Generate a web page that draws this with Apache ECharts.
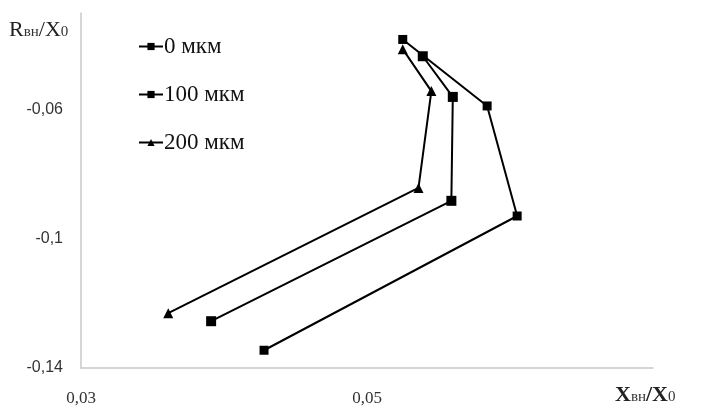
<!DOCTYPE html>
<html>
<head>
<meta charset="utf-8">
<script src="https://cdn.jsdelivr.net/npm/echarts@6/dist/echarts.min.js"></script>
<style>html,body{margin:0;padding:0;background:#fff}#c{width:706px;height:413px}</style>
</head>
<body>
<div id="c"></div>
<script>
const seriesNames = ['0 мкм', '100 мкм', '200 мкм'];
const x0 = [0.0525, 0.0584, 0.0605, 0.0428];
const y0 = [-0.0382, -0.0588, -0.0929, -0.1345];
const x100 = [0.0539, 0.0560, 0.0559, 0.0391];
const y100 = [-0.0434, -0.0560, -0.0882, -0.1255];
const x200 = [0.0525, 0.0545, 0.0536, 0.0361];
const y200 = [-0.0412, -0.0542, -0.0842, -0.1230];
const xTicks = [0.03, 0.05];
const yTicks = [-0.14, -0.1, -0.06];

const pairs = (xs, ys) => xs.map((v, i) => [v, ys[i]]);
const fmt = v => String(+v.toFixed(2)).replace('.', ',');

const chart = echarts.init(document.getElementById('c'));
const mk = (name, xs, ys, sym, size) => ({
  name, type: 'line', data: pairs(xs, ys),
  symbol: sym, symbolSize: size,
  lineStyle: { color: '#000', width: 2 },
  itemStyle: { color: '#000' },
  animation: false
});
chart.setOption({
  animation: false,
  grid: { left: 81, right: 53, top: 13, bottom: 45 },
  legend: {
    orient: 'vertical', left: 133, top: 30, itemGap: 25,
    itemWidth: 24, itemHeight: 9,
    textStyle: { fontFamily: 'Liberation Serif', fontSize: 23, color: '#111', padding: [0, 0, 0, -4] },
    data: seriesNames
  },
  xAxis: {
    type: 'value', min: 0.03, max: 0.07, interval: 0.02,
    name: '{b|X}{s|вн}{b|/X}{s|0}', nameLocation: 'end', nameGap: 0,
    nameTextStyle: {
      padding: [54, 0, 0, -38],
      rich: {
        b: { fontFamily: 'Liberation Serif', fontSize: 22, fontWeight: 'bold', color: '#222' },
        s: { fontFamily: 'Liberation Serif', fontSize: 15, color: '#333', padding: [4, 0, 0, 0] }
      }
    },
    axisLine: { lineStyle: { color: '#c8c8c8', width: 1.5 } },
    axisTick: { show: false },
    splitLine: { show: false },
    axisLabel: {
      margin: 22, fontFamily: 'Liberation Serif', fontSize: 17, color: '#333',
      formatter: v => xTicks.some(t => Math.abs(t - v) < 1e-9) ? fmt(v) : '',
      showMaxLabel: false
    }
  },
  yAxis: {
    type: 'value', min: -0.14, max: -0.03, interval: 0.04,
    name: '{b|R}{s|вн}{b|/X}{s|0}', nameLocation: 'end', nameGap: 0,
    nameTextStyle: {
      align: 'left', padding: [0, 0, -28, -72],
      rich: {
        b: { fontFamily: 'Liberation Serif', fontSize: 22, color: '#222' },
        s: { fontFamily: 'Liberation Serif', fontSize: 15, color: '#333', padding: [4, 0, 0, 0] }
      }
    },
    axisLine: { show: true, lineStyle: { color: '#c8c8c8', width: 1.5 } },
    axisTick: { show: false },
    splitLine: { show: false },
    axisLabel: {
      margin: 18, fontFamily: 'Liberation Sans', fontSize: 16, color: '#333',
      formatter: v => yTicks.some(t => Math.abs(t - v) < 1e-9) ? fmt(v) : '',
      showMaxLabel: false
    }
  },
  series: [
    mk(seriesNames[0], x0, y0, 'rect', 9),
    mk(seriesNames[1], x100, y100, 'rect', 10),
    mk(seriesNames[2], x200, y200, 'triangle', 10)
  ]
});
</script>
</body>
</html>
